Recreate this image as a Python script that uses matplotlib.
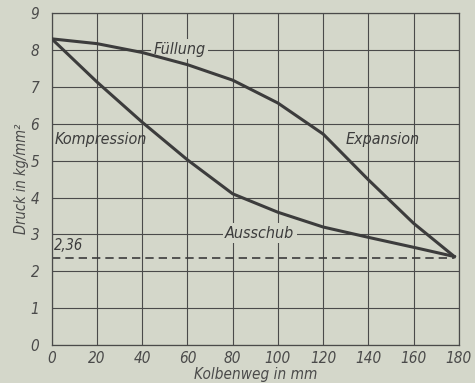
import matplotlib.pyplot as plt

# Kolbenweg (mm) und Druck (kg/mm^2)
x_upper = [0, 20, 40, 60, 80, 100, 120, 140, 160, 178]
p_upper = [8.3, 8.17, 7.93, 7.6, 7.18, 6.56, 5.72, 4.48, 3.3, 2.4]
x_lower = [0, 20, 40, 60, 80, 100, 120, 140, 160, 178]
p_lower = [8.3, 7.13, 6.04, 5.02, 4.1, 3.6, 3.2, 2.92, 2.65, 2.4]
p_min = 2.36
x_ticks = [0, 20, 40, 60, 80, 100, 120, 140, 160, 180]
y_ticks = [0, 1, 2, 3, 4, 5, 6, 7, 8, 9]

bg = '#d4d7ca'
ink = '#3c3c3c'
plt.rcParams['font.family'] = ['DejaVu Sans']
plt.rcParams['font.stretch'] = 'condensed'

fig = plt.figure(figsize=(4.75, 3.83), dpi=100, facecolor=bg)
ax = fig.add_axes([0.109, 0.099, 0.857, 0.867], facecolor=bg)

ax.plot(x_upper, p_upper, color=ink, lw=2.2, zorder=3)
ax.plot(x_lower, p_lower, color=ink, lw=2.2, zorder=3)
ax.plot([0, x_upper[-1]], [p_min, p_min], color=ink, lw=1.2, ls=(0, (5, 3)), zorder=2)

ax.set_xlim(0, 180)
ax.set_ylim(0, 9)
ax.set_xticks(x_ticks)
ax.set_yticks(y_ticks)
ax.grid(True, color='#4a4a4a', lw=0.8)
ax.set_axisbelow(True)
for s in ax.spines.values():
    s.set_color('#4a4a4a')
    s.set_linewidth(0.9)
ax.tick_params(axis='x', length=0, pad=4, labelcolor='#4a4a4a', labelsize=11)
ax.tick_params(axis='y', length=0, pad=9, labelcolor='#4a4a4a', labelsize=11)
for lab in ax.get_xticklabels() + ax.get_yticklabels():
    lab.set_style('italic')

ax.set_xlabel('Kolbenweg in mm', style='italic', color='#4a4a4a', fontsize=11, labelpad=1)
ax.set_ylabel('Druck in kg/mm²', style='italic', color='#4a4a4a', fontsize=10.5, labelpad=1)

box = dict(boxstyle='square,pad=0.15', fc=bg, ec='none')
ax.text(56.6, 8.02, 'Füllung', style='italic', color=ink, fontsize=11.5, ha='center', va='center', bbox=box, zorder=2.5)
ax.text(21.7, 5.56, 'Kompression', style='italic', color=ink, fontsize=11.5, ha='center', va='center')
ax.text(146.5, 5.56, 'Expansion', style='italic', color=ink, fontsize=11.5, ha='center', va='center')
ax.text(92, 3.03, 'Ausschub', style='italic', color=ink, fontsize=11.5, ha='center', va='center', bbox=box, zorder=2.5)
ax.text(1, 2.5, '2,36', style='italic', color=ink, fontsize=10.5, ha='left', va='bottom')

fig.savefig('out.png', dpi=100, facecolor=bg)
